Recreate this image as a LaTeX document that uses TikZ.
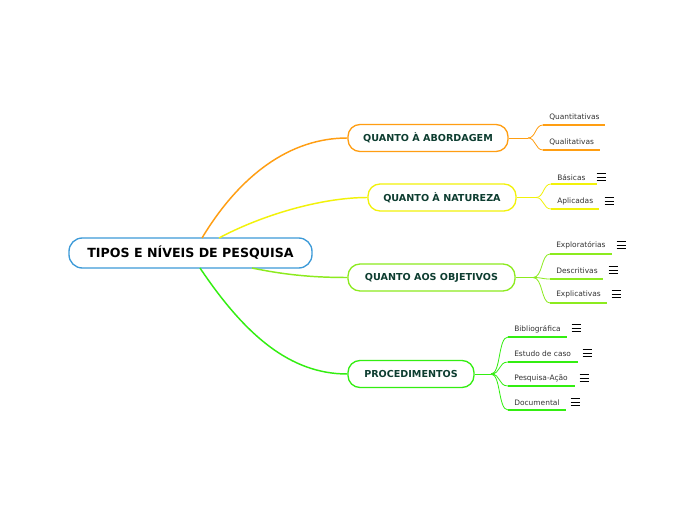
\documentclass[tikz,border=0pt]{standalone}
\usepackage{fontspec}
\setmainfont{DejaVu Sans}
\definecolor{corange}{HTML}{FF9E12}
\definecolor{cyellow}{HTML}{F2F20A}
\definecolor{clime}{HTML}{8CEB1E}
\definecolor{cgreen}{HTML}{33EE11}
\definecolor{cblue}{HTML}{3C9AD8}
\definecolor{ctext}{HTML}{0D3D30}
\definecolor{cleaf}{HTML}{333333}
\begin{document}
\begin{tikzpicture}[x=0.75pt,y=-0.75pt,
  rootbox/.style={draw=cblue,line width=1pt,fill=white,rounded corners=10pt,minimum width=243*0.75pt,minimum height=30*0.75pt,font=\fontsize{9.45}{11}\selectfont\bfseries,text=black,inner sep=0pt},
  branchbox/.style={draw=#1,line width=1pt,fill=white,rounded corners=9pt,minimum height=27*0.75pt,font=\fontsize{7.2}{9}\selectfont\bfseries,text=ctext,inner sep=0pt},
  leaftext/.style={font=\fontsize{5.6}{7}\selectfont,text=cleaf,anchor=west,inner sep=0pt},
  conn/.style={draw=#1,line width=1.1pt},
  thin/.style={draw=#1,line width=0.6pt},
  uline/.style={draw=#1,line width=1.6pt},
  menuicon/.style={line width=0.7pt,draw=black}
]
\useasboundingbox (0,0) rectangle (697,520);
\fill[white] (0,0) rectangle (697,520);

% root and branches
\node[rootbox] (root) at (190.5,253) {TIPOS E NÍVEIS DE PESQUISA};
\node[branchbox=corange,minimum width=160*0.75pt] (b1) at (428,138) {QUANTO À ABORDAGEM};
\node[branchbox=cyellow,minimum width=148*0.75pt] (b2) at (442,197.5) {QUANTO À NATUREZA};
\node[branchbox=clime,minimum width=167*0.75pt] (b3) at (431.5,277.5) {QUANTO AOS OBJETIVOS};
\node[branchbox=cgreen,minimum width=126*0.75pt] (b4) at (411,374) {PROCEDIMENTOS};

% root connectors
\coordinate (r1) at (202,238);
\coordinate (r2) at (219,238);
\coordinate (r3) at (252,268);
\coordinate (r4) at (200,268);
\draw[conn=corange] (r1) .. controls (240,175) and (290,138) .. (b1.west);
\draw[conn=cyellow] (r2) .. controls (260,216) and (320,197.5) .. (b2.west);
\draw[conn=clime] (r3) .. controls (290,276) and (320,277.5) .. (b3.west);
\draw[conn=cgreen] (r4) .. controls (245,335) and (290,374) .. (b4.west);

% leaves: branch 1
\coordinate (f1) at (528,138);
\draw[thin=corange] (b1.east) -- (f1);
\coordinate (l11) at (543,125);
\coordinate (l12) at (543,150);
\draw[thin=corange] (f1) .. controls (536,138) and (535,125) .. (l11);
\draw[thin=corange] (f1) .. controls (536,138) and (535,150) .. (l12);
\draw[uline=corange] (l11) -- (605,125);
\draw[uline=corange] (l12) -- (600,150);
\node[leaftext] (t11) at (549,117.5) {Quantitativas};
\node[leaftext] (t12) at (549,142.5) {Qualitativas};

% leaves: branch 2
\coordinate (f2) at (536,197.5);
\draw[thin=cyellow] (b2.east) -- (f2);
\coordinate (l21) at (551,184);
\coordinate (l22) at (551,209);
\draw[thin=cyellow] (f2) .. controls (544,197.5) and (543,184) .. (l21);
\draw[thin=cyellow] (f2) .. controls (544,197.5) and (543,209) .. (l22);
\draw[uline=cyellow] (l21) -- (597,184);
\draw[uline=cyellow] (l22) -- (599,209);
\node[leaftext] (t21) at (557,177.5) {Básicas};
\node[leaftext] (t22) at (557,201.5) {Aplicadas};

% leaves: branch 3
\coordinate (f3) at (533,277.5);
\draw[thin=clime] (b3.east) -- (f3);
\coordinate (l31) at (550,254);
\coordinate (l32) at (550,279);
\coordinate (l33) at (550,303);
\draw[thin=clime] (f3) .. controls (543,277.5) and (541,254) .. (l31);
\draw[thin=clime] (f3) .. controls (543,277.5) and (541,279) .. (l32);
\draw[thin=clime] (f3) .. controls (543,277.5) and (541,303) .. (l33);
\draw[uline=clime] (l31) -- (612,254);
\draw[uline=clime] (l32) -- (603,279);
\draw[uline=clime] (l33) -- (607,303);
\node[leaftext] (t31) at (556,245.5) {Exploratórias};
\node[leaftext] (t32) at (556,270.5) {Descritivas};
\node[leaftext] (t33) at (556,294.5) {Explicativas};

% leaves: branch 4
\coordinate (f4) at (491,374);
\draw[thin=cgreen] (b4.east) -- (f4);
\coordinate (l41) at (508,337);
\coordinate (l42) at (508,362);
\coordinate (l43) at (508,386);
\coordinate (l44) at (508,410);
\draw[thin=cgreen] (f4) .. controls (501,374) and (498,337) .. (l41);
\draw[thin=cgreen] (f4) .. controls (501,374) and (498,362) .. (l42);
\draw[thin=cgreen] (f4) .. controls (501,374) and (498,386) .. (l43);
\draw[thin=cgreen] (f4) .. controls (501,374) and (498,410) .. (l44);
\draw[uline=cgreen] (l41) -- (567,337);
\draw[uline=cgreen] (l42) -- (578,362);
\draw[uline=cgreen] (l43) -- (575,386);
\draw[uline=cgreen] (l44) -- (566,410);
\node[leaftext] (t41) at (514,329.5) {Bibliográfica};
\node[leaftext] (t42) at (514,353.5) {Estudo de caso};
\node[leaftext] (t43) at (514,378.5) {Pesquisa-Ação};
\node[leaftext] (t44) at (514,402.5) {Documental};

% menu icons
\foreach \x/\y in {601/177,609/201,621/245,613/270,616/294,576/328,587/353,584/378,575/402}{
  \draw[menuicon] (\x-4.5,\y-3.5) -- (\x+4.5,\y-3.5);
  \draw[menuicon] (\x-4.5,\y) -- (\x+4.5,\y);
  \draw[menuicon] (\x-4.5,\y+3.5) -- (\x+4.5,\y+3.5);
}
\end{tikzpicture}
\end{document}
